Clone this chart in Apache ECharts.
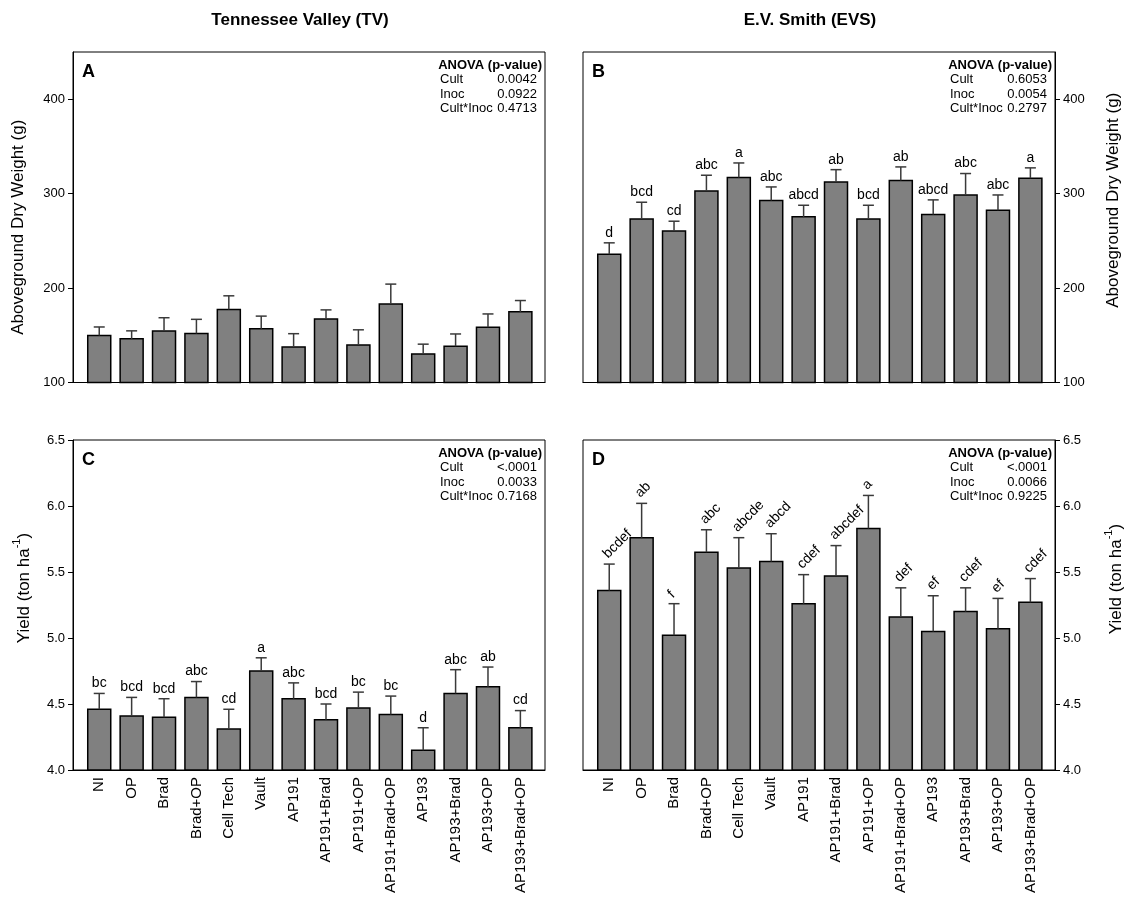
<!DOCTYPE html>
<html>
<head>
<meta charset="utf-8">
<script src="https://cdn.jsdelivr.net/npm/echarts@6/dist/echarts.min.js"></script>
<style>
  html, body { margin: 0; padding: 0; background: #fff; }
  #chart { width: 1130px; height: 901px; }
</style>
</head>
<body>
<div id="chart"></div>
<script>
// Treatments (x categories), shared by all four panels
const categories = ['NI', 'OP', 'Brad', 'Brad+OP', 'Cell Tech', 'Vault', 'AP191',
  'AP191+Brad', 'AP191+OP', 'AP191+Brad+OP', 'AP193', 'AP193+Brad', 'AP193+OP', 'AP193+Brad+OP'];

// A: Tennessee Valley, aboveground dry weight (g)
const tvWeight    = [149.8, 146.2, 154.6, 151.9, 177.3, 156.8, 137.7, 167.3, 139.8, 183.2, 130.3, 138.4, 158.6, 174.8];
const tvWeightErr = [9.0, 8.5, 14.0, 15.0, 14.5, 13.5, 14.0, 9.6, 16.0, 21.0, 10.3, 13.0, 14.0, 12.0];

// B: E.V. Smith, aboveground dry weight (g)
const evsWeight    = [235.9, 273.2, 260.5, 302.9, 317.1, 292.7, 275.4, 312.4, 273.2, 313.9, 277.9, 298.6, 282.4, 316.3];
const evsWeightErr = [12.0, 17.7, 10.3, 16.6, 15.4, 14.4, 12.3, 13.0, 14.5, 14.4, 15.5, 22.7, 16.2, 11.0];
const evsWeightLetters = ['d', 'bcd', 'cd', 'abc', 'a', 'abc', 'abcd', 'ab', 'bcd', 'ab', 'abcd', 'abc', 'abc', 'a'];

// C: Tennessee Valley, yield (ton/ha)
const tvYield    = [4.46, 4.41, 4.40, 4.55, 4.31, 4.75, 4.54, 4.38, 4.47, 4.42, 4.15, 4.58, 4.63, 4.32];
const tvYieldErr = [0.12, 0.14, 0.14, 0.12, 0.15, 0.10, 0.12, 0.12, 0.12, 0.14, 0.17, 0.18, 0.15, 0.13];
const tvYieldLetters = ['bc', 'bcd', 'bcd', 'abc', 'cd', 'a', 'abc', 'bcd', 'bc', 'bc', 'd', 'abc', 'ab', 'cd'];

// D: E.V. Smith, yield (ton/ha)
const evsYield    = [5.36, 5.76, 5.02, 5.65, 5.53, 5.58, 5.26, 5.47, 5.83, 5.16, 5.05, 5.20, 5.07, 5.27];
const evsYieldErr = [0.20, 0.26, 0.24, 0.17, 0.23, 0.21, 0.22, 0.23, 0.25, 0.22, 0.27, 0.18, 0.23, 0.18];
const evsYieldLetters = ['bcdef', 'ab', 'f', 'abc', 'abcde', 'abcd', 'cdef', 'abcdef', 'a', 'def', 'ef', 'cdef', 'ef', 'cdef'];

// ANOVA p-values per panel
const anovaTerms = ['Cult', 'Inoc', 'Cult*Inoc'];
const anovaA = ['0.0042', '0.0922', '0.4713'];
const anovaB = ['0.6053', '0.0054', '0.2797'];
const anovaC = ['<.0001', '0.0033', '0.7168'];
const anovaD = ['<.0001', '0.0066', '0.9225'];

// Axis tick values
const weightTicks = [100, 200, 300, 400];
const yieldTicks = [4.0, 4.5, 5.0, 5.5, 6.0, 6.5];

const FONT = '"Liberation Sans", Arial, Helvetica, sans-serif';
const BAR_FRAC = 0.71;

const chart = echarts.init(document.getElementById('chart'), null, { renderer: 'canvas' });

const boxW = 472;
const panels = [
  { tag: 'A', left: 73,  top: 52,  height: 330.5, vals: tvWeight,  errs: tvWeightErr,  letters: null,
    yMin: 100, yMax: 450, ticks: weightTicks, side: 'left', xLabels: false, rotLetters: false,
    name: 'Aboveground Dry Weight (g)', nameGap: 46, namePad: [0, 20, 0, 0],
    anova: anovaA, fmt: v => String(v) },
  { tag: 'B', left: 583, top: 52,  height: 330.5, vals: evsWeight, errs: evsWeightErr, letters: evsWeightLetters,
    yMin: 100, yMax: 450, ticks: weightTicks, side: 'right', xLabels: false, rotLetters: false,
    name: 'Aboveground Dry Weight (g)', nameGap: 50, namePad: [0, 0, 0, 34],
    anova: anovaB, fmt: v => String(v) },
  { tag: 'C', left: 73,  top: 440, height: 330, vals: tvYield,   errs: tvYieldErr,   letters: tvYieldLetters,
    yMin: 4.0, yMax: 6.5, ticks: yieldTicks, side: 'left', xLabels: true, rotLetters: false,
    name: '{n|Yield (ton ha}{sup|-1}{n|)}', nameGap: 40, namePad: [0, 0, 0, 34],
    anova: anovaC, fmt: v => v.toFixed(1) },
  { tag: 'D', left: 583, top: 440, height: 330, vals: evsYield,  errs: evsYieldErr,  letters: evsYieldLetters,
    yMin: 4.0, yMax: 6.5, ticks: yieldTicks, side: 'right', xLabels: true, rotLetters: true,
    name: '{n|Yield (ton ha}{sup|-1}{n|)}', nameGap: 48, namePad: [0, 0, 0, 52],
    anova: anovaD, fmt: v => v.toFixed(1) }
];

const grids = [], xAxes = [], yAxes = [], series = [], graphics = [];

panels.forEach((p, k) => {
  grids.push({
    left: p.left, top: p.top, width: boxW, height: p.height,
    show: true, borderColor: '#000', borderWidth: 1, backgroundColor: 'transparent'
  });

  xAxes.push({
    type: 'value', gridIndex: k, min: -0.81, max: 13.76,
    axisLine: { show: true, onZero: false, lineStyle: { color: '#000', width: 1 } },
    axisTick: { show: false },
    splitLine: { show: false },
    axisLabel: {
      show: p.xLabels,
      customValues: categories.map((c, i) => i),
      formatter: v => categories[Math.round(v)] || '',
      rotate: 90, margin: 7,
      fontFamily: FONT, fontSize: 15, color: '#000'
    }
  });

  yAxes.push({
    type: 'value', gridIndex: k, position: p.side,
    min: p.yMin, max: p.yMax,
    axisLine: { show: true, onZero: false, lineStyle: { color: '#000', width: 1 } },
    axisTick: { show: true, length: 5, lineStyle: { color: '#000' },
      customValues: p.ticks },
    splitLine: { show: false },
    axisLabel: { customValues: p.ticks, formatter: p.fmt, margin: 8,
      fontFamily: FONT, fontSize: 13, color: '#000' },
    name: p.name,
    nameLocation: 'middle',
    nameGap: p.nameGap,
    nameTextStyle: {
      fontFamily: FONT, fontSize: 17, color: '#000',
      padding: p.namePad,
      rich: {
        n: { fontFamily: FONT, fontSize: 17, lineHeight: 22, verticalAlign: 'bottom', color: '#000' },
        sup: { fontFamily: FONT, fontSize: 11, lineHeight: 11, verticalAlign: 'top', color: '#000' }
      }
    }
  });

  const yMin = p.yMin;
  const letters = p.letters;
  const rot = p.rotLetters;
  series.push({
    type: 'custom',
    xAxisIndex: k, yAxisIndex: k,
    data: p.vals.map((v, i) => [i, v, p.errs[i]]),
    renderItem: function (params, api) {
      const i = api.value(0), v = api.value(1), e = api.value(2);
      const base = api.coord([i, yMin]);
      const top = api.coord([i, v]);
      const errTop = api.coord([i, v + e]);
      const w = api.size([BAR_FRAC, 0])[0];
      const cap = 5.5;
      const children = [
        { type: 'rect',
          shape: { x: top[0] - w / 2, y: top[1], width: w, height: base[1] - top[1] },
          style: { fill: '#808080', stroke: '#000', lineWidth: 1.5 } },
        { type: 'line',
          shape: { x1: top[0], y1: top[1], x2: errTop[0], y2: errTop[1] },
          style: { stroke: '#3a3a3a', lineWidth: 1.5 } },
        { type: 'line',
          shape: { x1: errTop[0] - cap, y1: errTop[1], x2: errTop[0] + cap, y2: errTop[1] },
          style: { stroke: '#3a3a3a', lineWidth: 1.5 } }
      ];
      if (letters) {
        if (rot) {
          children.push({ type: 'text', x: errTop[0] - 4, y: errTop[1] - 8, rotation: Math.PI / 4,
            style: { text: letters[i], fill: '#000', font: '14px ' + FONT,
              align: 'left', verticalAlign: 'middle' } });
        } else {
          children.push({ type: 'text', x: errTop[0], y: errTop[1] - 3,
            style: { text: letters[i], fill: '#000', font: '14px ' + FONT,
              align: 'center', verticalAlign: 'bottom' } });
        }
      }
      return { type: 'group', children: children };
    }
  });

  // panel tag
  graphics.push({ type: 'text', x: p.left + 9, y: p.top + 20,
    style: { text: p.tag, fill: '#000', font: 'bold 18px ' + FONT, align: 'left', verticalAlign: 'middle' } });

  // ANOVA block
  const right = p.left + boxW;
  graphics.push({ type: 'text', x: right - 3, y: p.top + 13,
    style: { text: 'ANOVA (p-value)', fill: '#000', font: 'bold 13px ' + FONT, align: 'right', verticalAlign: 'middle' } });
  anovaTerms.forEach((t, j) => {
    const yy = p.top + 27.5 + 14.6 * j;
    graphics.push({ type: 'text', x: right - 105, y: yy,
      style: { text: t, fill: '#000', font: '13px ' + FONT, align: 'left', verticalAlign: 'middle' } });
    graphics.push({ type: 'text', x: right - 8, y: yy,
      style: { text: p.anova[j], fill: '#000', font: '13px ' + FONT, align: 'right', verticalAlign: 'middle' } });
  });
});

// site titles
graphics.push({ type: 'text', x: 300, y: 20,
  style: { text: 'Tennessee Valley (TV)', fill: '#000', font: 'bold 17px ' + FONT, align: 'center', verticalAlign: 'middle' } });
graphics.push({ type: 'text', x: 810, y: 20,
  style: { text: 'E.V. Smith (EVS)', fill: '#000', font: 'bold 17px ' + FONT, align: 'center', verticalAlign: 'middle' } });

chart.setOption({
  animation: false,
  backgroundColor: '#fff',
  textStyle: { fontFamily: FONT },
  grid: grids,
  xAxis: xAxes,
  yAxis: yAxes,
  series: series,
  graphic: graphics
});
</script>
</body>
</html>
